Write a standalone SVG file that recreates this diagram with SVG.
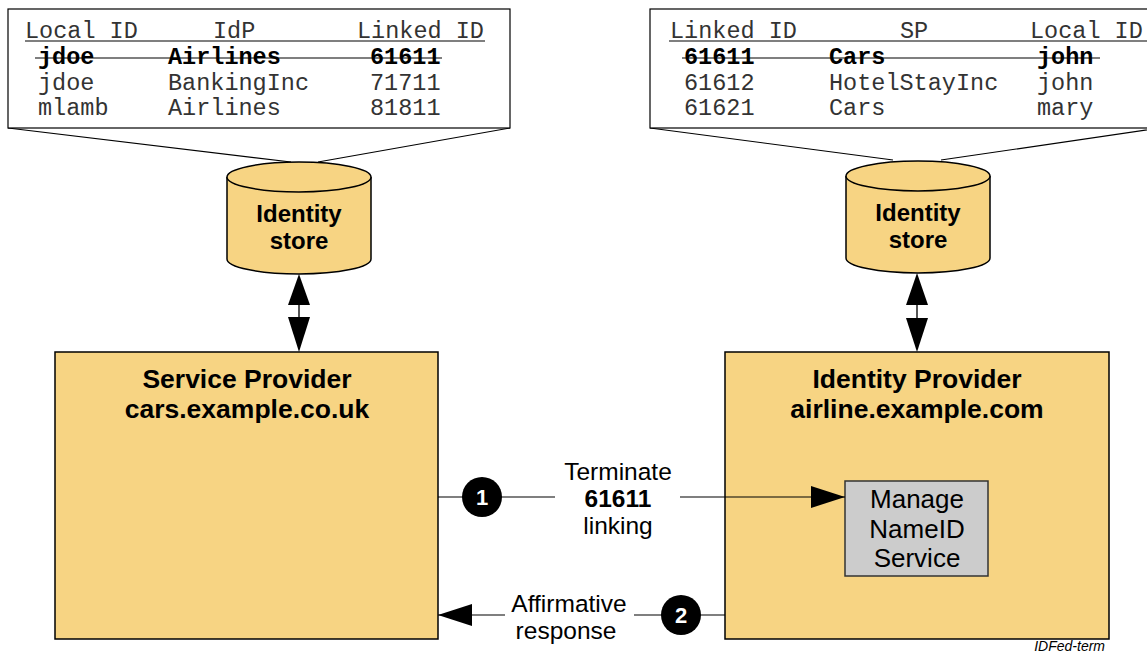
<svg xmlns="http://www.w3.org/2000/svg" width="1147" height="653" viewBox="0 0 1147 653">
<style>
.box{fill:#F7D483;stroke:#000;stroke-width:1.5}
.svc{fill:#CCCCCC;stroke:#333;stroke-width:1.5}
.tbl{fill:#fff;stroke:#000;stroke-width:1.2}
.call{fill:none;stroke:#000;stroke-width:1.2}
.mono{font-family:"Liberation Mono","Courier New",monospace;font-size:23.5px;fill:#333}
.monob{font-family:"Liberation Mono","Courier New",monospace;font-size:23.5px;font-weight:bold;fill:#000}
.ttl{font-family:"Liberation Sans",Arial,sans-serif;font-size:26.5px;font-weight:bold;fill:#000;text-anchor:middle}
.store{font-family:"Liberation Sans",Arial,sans-serif;font-size:24px;font-weight:bold;fill:#000;text-anchor:middle}
.lbl{font-family:"Liberation Sans",Arial,sans-serif;font-size:24.5px;fill:#000;text-anchor:middle}
.svct{font-family:"Liberation Sans",Arial,sans-serif;font-size:26px;fill:#000;text-anchor:middle}
.num{font-family:"Liberation Sans",Arial,sans-serif;font-size:22px;font-weight:bold;fill:#fff;text-anchor:middle}
.conn{fill:none;stroke:#000;stroke-width:1.2}
.dbl{fill:none;stroke:#555;stroke-width:2}
.line{stroke:#000;stroke-width:1.2}
</style>
<defs>
<marker id="ah" viewBox="0 0 34 22" refX="34" refY="11" markerWidth="34" markerHeight="22" markerUnits="userSpaceOnUse" orient="auto">
<path d="M0,0 L34,11 L0,22 Z" fill="#000"/>
</marker>
</defs>
<rect width="1147" height="653" fill="#fff"/>

<g id="table-sp">
<path class="call" d="M8,128 L291,162 M510,128 L318,162"/>
<rect class="tbl" x="8" y="9" width="502" height="119"/>
<text class="mono" x="25" y="38">Local ID</text>
<text class="mono" x="213" y="38">IdP</text>
<text class="mono" x="357" y="38">Linked ID</text>
<line class="line" x1="25" y1="41" x2="485" y2="41"/>
<text class="monob" x="38" y="64">jdoe</text>
<text class="monob" x="168" y="64">Airlines</text>
<text class="monob" x="370" y="64">61611</text>
<line class="line" x1="35" y1="58" x2="442" y2="58"/>
<text class="mono" x="38" y="90">jdoe</text>
<text class="mono" x="168" y="90">BankingInc</text>
<text class="mono" x="370" y="90">71711</text>
<text class="mono" x="38" y="115">mlamb</text>
<text class="mono" x="168" y="115">Airlines</text>
<text class="mono" x="370" y="115">81811</text>
</g>

<g id="table-idp">
<path class="call" d="M650,128 L893,160 M1160,128 L941,160"/>
<rect class="tbl" x="650" y="9" width="520" height="119"/>
<text class="mono" x="670" y="38">Linked ID</text>
<text class="mono" x="900" y="38">SP</text>
<text class="mono" x="1030" y="38">Local ID</text>
<line class="line" x1="669" y1="41" x2="1147" y2="41"/>
<text class="monob" x="684" y="64">61611</text>
<text class="monob" x="829" y="64">Cars</text>
<text class="monob" x="1037" y="64">john</text>
<line class="line" x1="682" y1="58" x2="1100" y2="58"/>
<text class="mono" x="684" y="90">61612</text>
<text class="mono" x="829" y="90">HotelStayInc</text>
<text class="mono" x="1037" y="90">john</text>
<text class="mono" x="684" y="115">61621</text>
<text class="mono" x="829" y="115">Cars</text>
<text class="mono" x="1037" y="115">mary</text>
</g>

<g id="store-sp">
<path class="box" d="M227,177 L227,259 A72,15 0 0 0 371,259 L371,177"/>
<ellipse class="box" cx="299" cy="177" rx="72" ry="15"/>
<text class="store" x="299" y="222">Identity</text>
<text class="store" x="299" y="249">store</text>
</g>

<g id="store-idp">
<path class="box" d="M846,176 L846,258 A72,15 0 0 0 990,258 L990,176"/>
<ellipse class="box" cx="918" cy="176" rx="72" ry="15"/>
<text class="store" x="918" y="221">Identity</text>
<text class="store" x="918" y="248">store</text>
</g>

<g id="sp">
<rect class="box" x="55" y="352" width="383" height="287"/>
<text class="ttl" x="247" y="388">Service Provider</text>
<text class="ttl" x="247" y="418">cars.example.co.uk</text>
</g>

<g id="idp">
<rect class="box" x="725" y="352" width="384" height="287"/>
<text class="ttl" x="917" y="388">Identity Provider</text>
<text class="ttl" x="917" y="418">airline.example.com</text>
</g>

<g id="manage">
<rect class="svc" x="845" y="481" width="143" height="95"/>
<text class="svct" x="917" y="508">Manage</text>
<text class="svct" x="917" y="538">NameID</text>
<text class="svct" x="917" y="567">Service</text>
</g>

<g id="connectors">
<line class="dbl" x1="299" y1="300" x2="299" y2="320"/>
<path d="M299,274 L310,305 L288,305 Z" fill="#000"/>
<path d="M299,352 L310,317 L288,317 Z" fill="#000"/>
<line class="dbl" x1="917" y1="300" x2="917" y2="320"/>
<path d="M917,273 L928,305 L906,305 Z" fill="#000"/>
<path d="M917,352 L928,318 L906,318 Z" fill="#000"/>

<line class="conn" x1="438" y1="497" x2="555" y2="497"/>
<line class="conn" x1="680" y1="497" x2="845" y2="497" marker-end="url(#ah)"/>
<circle cx="482" cy="497" r="20" fill="#000"/>
<text class="num" x="482" y="505">1</text>
<text class="lbl" x="618" y="480">Terminate</text>
<text class="lbl" x="618" y="507" style="font-weight:bold">61611</text>
<text class="lbl" x="618" y="534">linking</text>

<line class="conn" x1="725" y1="615" x2="634" y2="615"/>
<line class="conn" x1="505" y1="615" x2="438" y2="615" marker-end="url(#ah)"/>
<circle cx="681" cy="615" r="20" fill="#000"/>
<text class="num" x="681" y="623">2</text>
<text class="lbl" x="569" y="612">Affirmative</text>
<text class="lbl" x="566" y="639">response</text>
</g>

<text x="1105" y="651" style="font-family:'Liberation Sans',Arial,sans-serif;font-size:14px;font-style:italic;text-anchor:end;fill:#000">IDFed-term</text>
</svg>
